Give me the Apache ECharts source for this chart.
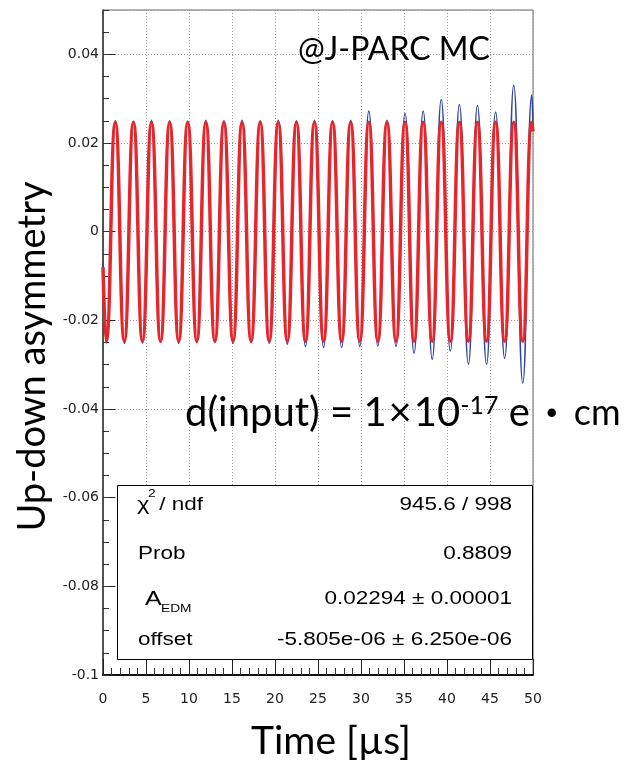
<!DOCTYPE html>
<html><head><meta charset="utf-8">
<script src="https://cdn.jsdelivr.net/npm/echarts@6/dist/echarts.min.js"></script>
<style>html,body{margin:0;padding:0;background:#fff}#c{width:627px;height:760px}</style>
</head><body><div id="c"></div>
<script>
// Time [µs] of the points (start, successive troughs/peaks, end)
const times = [0, 0.38, 1.43, 2.48, 3.54, 4.59, 5.64, 6.69, 7.75, 8.80, 9.85, 10.91, 11.96, 13.01, 14.06, 15.12, 16.17, 17.22, 18.28, 19.33, 20.38, 21.43, 22.49, 23.54, 24.59, 25.65, 26.70, 27.75, 28.80, 29.86, 30.91, 31.96, 33.02, 34.07, 35.12, 36.17, 37.23, 38.28, 39.33, 40.39, 41.44, 42.49, 43.54, 44.60, 45.65, 46.70, 47.76, 48.81, 49.86, 50];
// fitted curve (red)
const fitValues = [-0.008, -0.0247, 0.0247, -0.0247, 0.0247, -0.0247, 0.0247, -0.0247, 0.0247, -0.0247, 0.0247, -0.0247, 0.0247, -0.0247, 0.0247, -0.0247, 0.0247, -0.0247, 0.0247, -0.0247, 0.0247, -0.0247, 0.0247, -0.0247, 0.0247, -0.0247, 0.0247, -0.0247, 0.0247, -0.0247, 0.0247, -0.0247, 0.0247, -0.0247, 0.0247, -0.0247, 0.0247, -0.0247, 0.0247, -0.0247, 0.0247, -0.0247, 0.0247, -0.0247, 0.0247, -0.0247, 0.0247, -0.0247, 0.0247, 0.0226];
// MC data (blue)
const dataValues = [-0.007, -0.0251, 0.0250, -0.0252, 0.0249, -0.0251, 0.0251, -0.0250, 0.0250, -0.0252, 0.0249, -0.0251, 0.0251, -0.0250, 0.0250, -0.0252, 0.0251, -0.0251, 0.0250, -0.0252, 0.0251, -0.0254, 0.0250, -0.0259, 0.0251, -0.0261, 0.0250, -0.0261, 0.0251, -0.0259, 0.0272, -0.0258, 0.0251, -0.0259, 0.0267, -0.0274, 0.0272, -0.0288, 0.0298, -0.0269, 0.0287, -0.0299, 0.0285, -0.0299, 0.0270, -0.0286, 0.0330, -0.0342, 0.0308, 0.0240];

const xRange = [0, 50];
const xStep = 5;
const yRange = [-0.1, 0.05];
const yStep = 0.02;
const yMinorStep = 0.005;

const statNames = ['Prob', 'offset'];
const statValues = ['945.6 / 998', '0.8809', '0.02294 \u00b1 0.00001', '-5.805e-06 \u00b1 6.250e-06'];

const fitData = times.map((t, i) => [t, fitValues[i]]);
const mcData = times.map((t, i) => [t, dataValues[i]]);

const chart = echarts.init(document.getElementById('c'), null, {renderer: 'canvas'});
const gridLine = {show: true, lineStyle: {color: '#9a9a9a', type: [1, 2], width: 1}};
const tickFont = {fontFamily: 'DejaVu Sans', fontSize: 14, color: '#222'};
const statFont = 'Liberation Sans';
const sx = 1.25;

chart.setOption({
  animation: false,
  backgroundColor: '#fff',
  grid: {left: 103, right: 94, top: 10, bottom: 85, outerBoundsMode: 'none', containLabel: false,
         show: true, borderColor: '#666', borderWidth: 1, backgroundColor: '#fff'},
  xAxis: {
    type: 'value', min: xRange[0], max: xRange[1], interval: xStep,
    axisLine: {show: true, onZero: false, lineStyle: {color: '#111', width: 2}},
    axisTick: {show: true, inside: true, length: 16, lineStyle: {color: '#222', width: 1}},
    minorTick: {show: true, splitNumber: 5, length: 7, lineStyle: {color: '#333', width: 1}},
    splitLine: gridLine,
    axisLabel: Object.assign({margin: 17}, tickFont),
    name: 'Time [\u00b5s]', nameLocation: 'middle', nameGap: 47,
    nameTextStyle: {fontFamily: 'Lato', fontSize: 39, color: '#000', padding: [0, 0, 0, 26]}
  },
  yAxis: [{
    type: 'value', min: yRange[0], max: yRange[1], interval: yStep,
    axisLine: {show: true, onZero: false, lineStyle: {color: '#333', width: 1.5}},
    axisTick: {show: true, inside: true, length: 12, lineStyle: {color: '#222', width: 1}},
    splitLine: gridLine,
    axisLabel: Object.assign({margin: 4, showMaxLabel: false}, tickFont),
    name: 'Up-down asymmetry', nameLocation: 'middle', nameGap: 45, nameRotate: 90,
    nameTextStyle: {fontFamily: 'Lato', fontSize: 38, color: '#000', padding: [0, 28, 0, 0]}
  }, {
    type: 'value', min: yRange[0], max: yRange[1], interval: yMinorStep, position: 'left',
    axisLine: {show: false}, axisLabel: {show: false}, splitLine: {show: false},
    axisTick: {show: true, inside: true, length: 6, lineStyle: {color: '#333', width: 1}}
  }],
  series: [{
    type: 'line', name: 'MC', data: mcData, yAxisIndex: 0, showSymbol: false, smooth: 0.5,
    lineStyle: {color: '#33449e', width: 1.6}, z: 2
  }, {
    type: 'line', name: 'fit', data: fitData, yAxisIndex: 0, showSymbol: false, smooth: 0.5,
    lineStyle: {color: '#e5262d', width: 3.5}, z: 3
  }],
  graphic: [
    {type: 'text', x: 298, y: 50, z: 100, style: {text: '@J-PARC MC', fontFamily: 'Lato', fontSize: 32, fill: '#000', align: 'left', verticalAlign: 'middle'}},
    {type: 'text', x: 185, y: 413, z: 100, style: {
      text: 'd(input) = 1{x|\u00d7}10{sup|-17} e{dot|\u30fb}{cm|cm}', fontFamily: 'Lato, "Noto Sans CJK JP"', fontSize: 40, fill: '#000', align: 'left', verticalAlign: 'middle',
      rich: {sup: {fontFamily: 'Lato', fontSize: 25, lineHeight: 25, verticalAlign: 'top', fill: '#000'},
             x: {fontFamily: 'Lato', fontSize: 40, fill: '#000', padding: [0, 2, 0, 2]},
             dot: {fontFamily: '"Noto Sans CJK JP"', fontSize: 40, fill: '#000', padding: [0, 2, 0, 2]},
             cm: {fontFamily: 'Lato', fontSize: 36, fill: '#000'}}
    }},
    {type: 'rect', z: 100, shape: {x: 117.5, y: 485.5, width: 415, height: 174}, style: {fill: '#fff', stroke: '#000', lineWidth: 1}},
    {type: 'text', z: 101, x: 137, y: 505, scaleX: sx, style: {text: '\u03c7', fontFamily: statFont, fontSize: 19, fill: '#000', verticalAlign: 'middle'}},
    {type: 'text', z: 101, x: 148, y: 494, scaleX: sx, style: {text: '2', fontFamily: statFont, fontSize: 11, fill: '#000', verticalAlign: 'middle'}},
    {type: 'text', z: 101, x: 153, y: 505, scaleX: sx, style: {text: ' / ndf', fontFamily: statFont, fontSize: 18, fill: '#000', verticalAlign: 'middle'}},
    {type: 'text', z: 101, x: 138, y: 554, scaleX: sx, style: {text: statNames[0], fontFamily: statFont, fontSize: 18, fill: '#000', verticalAlign: 'middle'}},
    {type: 'text', z: 101, x: 145, y: 599, scaleX: sx, style: {text: 'A', fontFamily: statFont, fontSize: 20, fill: '#000', verticalAlign: 'middle'}},
    {type: 'text', z: 101, x: 161, y: 609, scaleX: sx, style: {text: 'EDM', fontFamily: statFont, fontSize: 11, fill: '#000', verticalAlign: 'middle'}},
    {type: 'text', z: 101, x: 138, y: 640, scaleX: sx, style: {text: statNames[1], fontFamily: statFont, fontSize: 18, fill: '#000', verticalAlign: 'middle'}},
    {type: 'text', z: 101, x: 512, y: 505, scaleX: sx, style: {text: statValues[0], fontFamily: statFont, fontSize: 18, fill: '#000', align: 'right', verticalAlign: 'middle'}},
    {type: 'text', z: 101, x: 512, y: 554, scaleX: sx, style: {text: statValues[1], fontFamily: statFont, fontSize: 18, fill: '#000', align: 'right', verticalAlign: 'middle'}},
    {type: 'text', z: 101, x: 512, y: 599, scaleX: sx, style: {text: statValues[2], fontFamily: statFont, fontSize: 18, fill: '#000', align: 'right', verticalAlign: 'middle'}},
    {type: 'text', z: 101, x: 512, y: 640, scaleX: sx, style: {text: statValues[3], fontFamily: statFont, fontSize: 18, fill: '#000', align: 'right', verticalAlign: 'middle'}}
  ]
});
</script></body></html>
